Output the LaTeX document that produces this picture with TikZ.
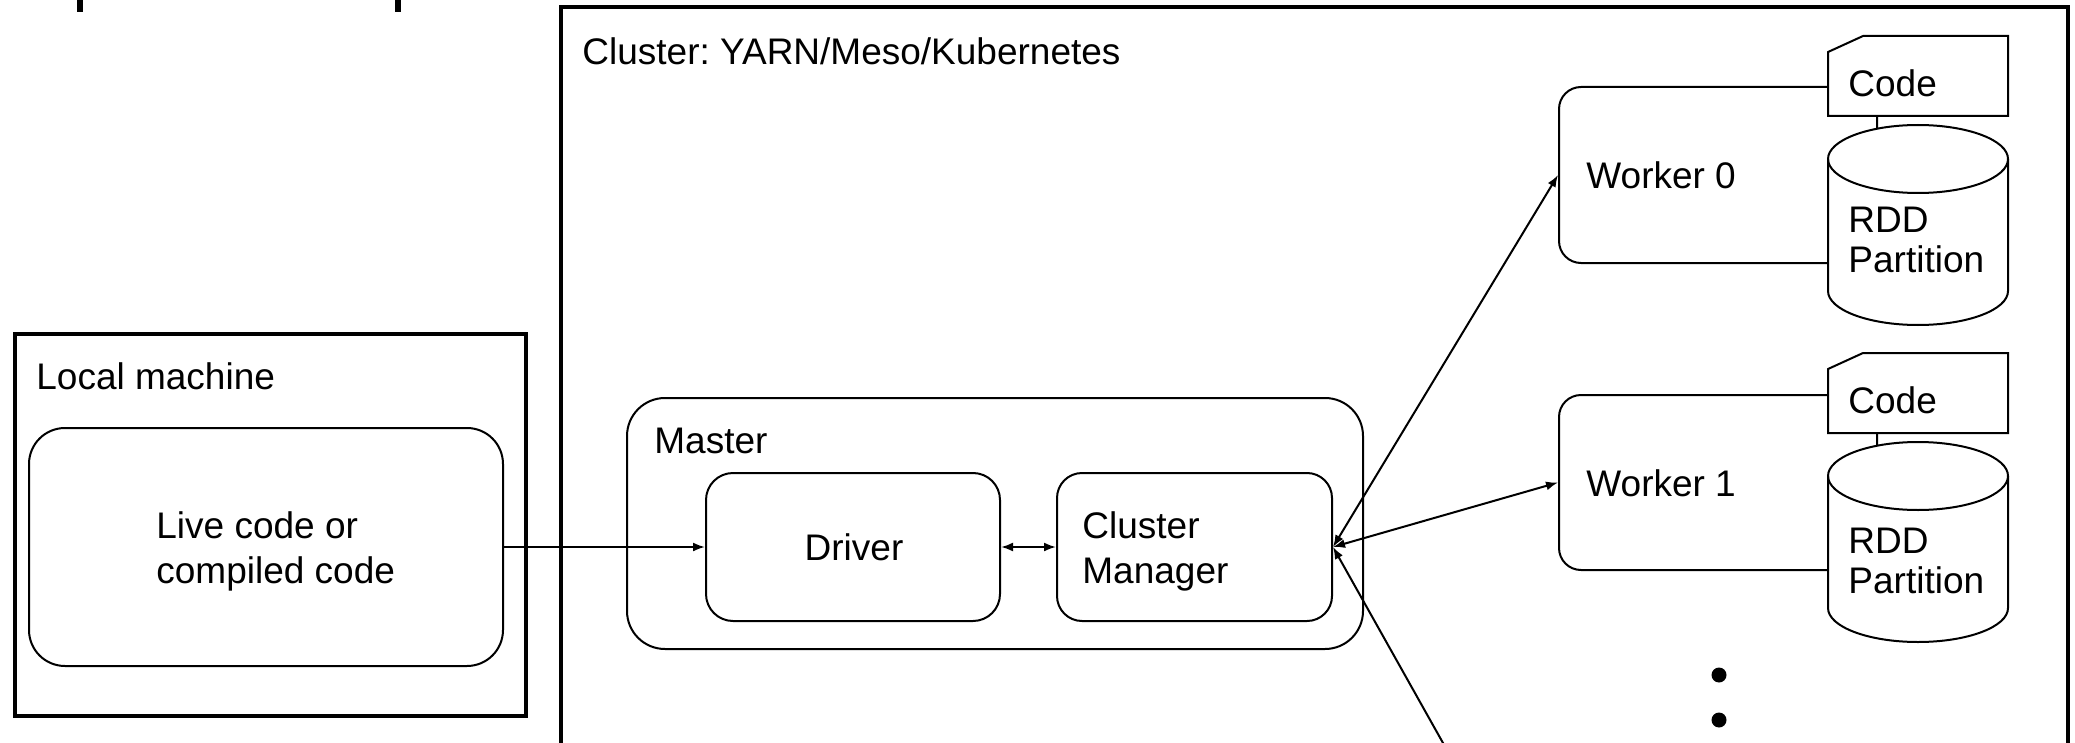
\documentclass[tikz,border=0pt]{standalone}
\usepackage{fontspec}
\setmainfont{Liberation Sans}
\usetikzlibrary{arrows.meta}
\frenchspacing

% code card: rectangle with a clipped top-left corner (#1 = left x, #2 = top y)
\newcommand\codecard[2]{%
  \draw[line width=1pt, fill=white] (#1,#2+16) -- (#1+35,#2) -- (#1+180,#2)
    -- (#1+180,#2+80) -- (#1,#2+80) -- cycle;}
% storage drum (#1 = left x, #2 = top y, #3 = bottom y)
\newcommand\storagedrum[3]{%
  \draw[line width=1pt, fill=white] (#1,#2+34) -- (#1,#3-34)
    arc[start angle=180, end angle=0, x radius=90, y radius=34]
    -- (#1+180,#2+34)
    arc[start angle=0, end angle=-180, x radius=90, y radius=34] -- cycle;
  \draw[line width=1pt] (#1,#2+34)
    arc[start angle=180, end angle=0, x radius=90, y radius=34];}

\begin{document}
\begin{tikzpicture}[x=0.5pt, y=-0.5pt,
  frame/.style={draw, line width=2.2pt, rectangle, inner sep=0pt},
  rbox/.style={draw, line width=1pt, rectangle, rounded corners=#1,
    inner sep=0pt, fill=white},
  lbl/.style={anchor=base west, inner sep=0pt,
    font=\fontsize{18.5pt}{20pt}\selectfont},
  tip/.tip={Latex[length=6pt, width=4.5pt]},
  link/.style={line width=1pt, -tip},
  dlink/.style={line width=1pt, tip-tip},
  dot/.style={circle, fill=black, inner sep=0pt, minimum size=7.5pt}]

\path[use as bounding box] (0,0) rectangle (2075,743);
\clip (0,0) rectangle (2075,743);

% stubs of the frame above
\draw[line width=3pt] (80,-5) -- (80,12);
\draw[line width=3pt] (398,-5) -- (398,12);

% outer frames
\node[frame, minimum width=753.5pt, minimum height=396.5pt] (cluster) at (1314.5,403.5) {};
\node[frame, minimum width=255.5pt, minimum height=191pt] (local) at (270.5,525) {};

% local machine
\node[rbox=18pt, minimum width=237pt, minimum height=119pt] (prog) at (266,547) {};

% master
\node[rbox=19pt, minimum width=368pt, minimum height=125.5pt] (master) at (995,523.5) {};
\node[rbox=13.5pt, minimum width=147pt, minimum height=74pt] (driver) at (853,547) {};
\node[rbox=12.5pt, minimum width=137.5pt, minimum height=74pt] (cm) at (1194.5,547) {};

% workers
\node[rbox=11pt, minimum width=159pt, minimum height=88pt] (w0) at (1718,175) {};
\node[rbox=11pt, minimum width=159pt, minimum height=87.5pt] (w1) at (1718,482.5) {};
\codecard{1828}{36}
\storagedrum{1828}{125}{325}
\codecard{1828}{353}
\storagedrum{1828}{442}{642}

% texts
\node[lbl] (tcluster) at (582,65) {Cluster: YARN/Meso/Kubernetes};
\node[lbl] (tlocal) at (36,389) {Local machine};
\node[lbl] (tlive) at (156,538) {Live code or};
\node[lbl] (tcomp) at (156,583) {compiled code};
\node[lbl] (tmaster) at (654,453) {Master};
\node[lbl, anchor=base] (tdriver) at (854,560) {Driver};
\node[lbl] (tcl) at (1082,538) {Cluster};
\node[lbl] (tman) at (1082,583) {Manager};
\node[lbl] (tw0) at (1586,189) {Worker 0};
\node[lbl] (tw1) at (1586,496) {Worker 1};
\node[lbl] (tc0) at (1848,97) {Code};
\node[lbl] (tr0) at (1848,233) {RDD};
\node[lbl] (tp0) at (1848,272) {Partition};
\node[lbl] (tc1) at (1848,413) {Code};
\node[lbl] (tr1) at (1848,553) {RDD};
\node[lbl] (tp1) at (1848,593) {Partition};

% more workers
\node[dot] (d1) at (1719,675) {};
\node[dot] (d2) at (1719,720) {};

% connectors
\coordinate (ext) at (1475,800);
\draw[link] (prog.east) -- (driver.west);
\draw[dlink] (driver.east) -- (cm.west);
\draw[dlink] (cm.east) -- (w0.west);
\draw[dlink] (cm.east) -- (w1.west);
\draw[link] (ext) -- (cm.east);
\end{tikzpicture}
\end{document}
